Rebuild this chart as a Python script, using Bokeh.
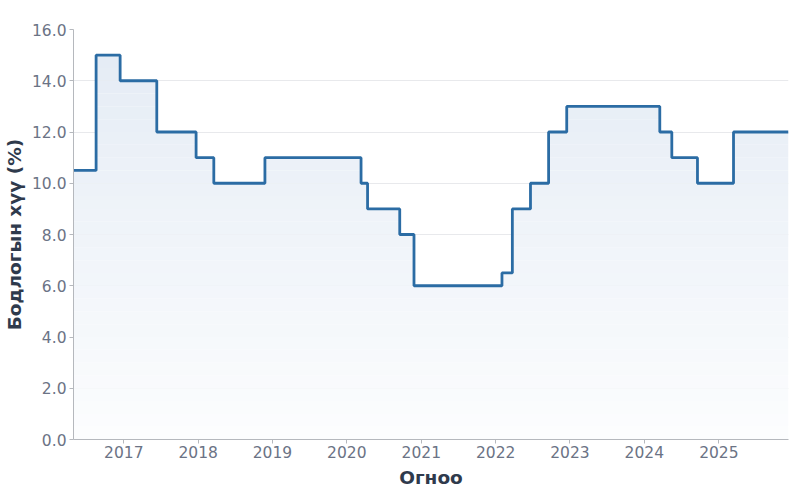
import numpy as np
import pandas as pd
from bokeh.plotting import figure
from bokeh.models import (Range1d, YearsTicker, DatetimeTickFormatter,
                          NumeralTickFormatter, FixedTicker)
from bokeh.embed import file_html
from bokeh.resources import INLINE

# ---- data: policy rate step changes ----
change_dates = ["2016-04-29", "2016-08-18", "2016-12-14", "2017-06-12",
                "2017-12-22", "2018-03-19", "2018-11-25", "2020-03-11",
                "2020-04-12", "2020-09-17", "2020-11-26", "2022-02-01",
                "2022-03-24", "2022-06-21", "2022-09-18", "2022-12-16",
                "2024-03-17", "2024-05-15", "2024-09-18", "2025-03-14",
                "2025-12-09"]
rates = [10.5, 15.0, 14.0, 12.0, 11.0, 10.0, 11.0, 10.0, 9.0, 8.0, 6.0,
         6.5, 9.0, 10.0, 12.0, 13.0, 12.0, 11.0, 10.0, 12.0, 12.0]
y_ticks = [0, 2, 4, 6, 8, 10, 12, 14, 16]

x = pd.to_datetime(change_dates)
y = np.array(rates)

FONT = "DejaVu Sans"
p = figure(x_axis_type="datetime", output_backend="svg", toolbar_location=None,
           frame_width=715, frame_height=410,
           min_border_left=67, min_border_right=2, min_border_top=29,
           min_border_bottom=45,
           x_range=Range1d(x[0], x[-1]), y_range=Range1d(0, 16))
p.background_fill_color = "white"
p.border_fill_color = "white"
p.outline_line_color = None

# gradient-like fill via stacked bands
top_c = np.array([0xe5, 0xec, 0xf5])
bot_c = np.array([0xfc, 0xfd, 0xfe])
edges = np.arange(0, 16.01, 0.5)
for lo, hi in zip(edges[:-1], edges[1:]):
    t = min((lo + hi) / 2 / 15.0, 1.0)
    c = bot_c + (top_c - bot_c) * t
    col = "#%02x%02x%02x" % tuple(int(round(v)) for v in c)
    y2 = np.clip(y, lo, hi)
    if np.all(y2 <= lo):
        continue
    p.varea_step(x=x, y1=np.full(len(y), lo), y2=y2, step_mode="after",
                 fill_color=col, fill_alpha=1.0)

p.step(x=x, y=y, mode="after", line_color="#2b6ca4", line_width=2.8)

# axes
p.xaxis.ticker = YearsTicker(desired_num_ticks=10)
p.xaxis.formatter = DatetimeTickFormatter(years="%Y", months="%Y", days="%Y")
p.yaxis.ticker = FixedTicker(ticks=y_ticks)
p.yaxis.formatter = NumeralTickFormatter(format="0.0")

p.xaxis.axis_label = "Огноо"
p.yaxis.axis_label = "Бодлогын хүү (%)"
for ax in (p.xaxis[0], p.yaxis[0]):
    ax.axis_label_text_font = FONT
    ax.axis_label_text_font_style = "bold"
    ax.axis_label_text_font_size = "18.5px"
    ax.axis_label_text_color = "#2f3a4c"
    ax.major_label_text_font = FONT
    ax.major_label_text_font_size = "15.5px"
    ax.major_label_text_color = "#6b7385"
    ax.axis_line_color = "#b5b8bd"
    ax.major_tick_line_color = "#b5b8bd"
    ax.major_tick_in = 0
    ax.major_tick_out = 4
    ax.minor_tick_line_color = None
p.xaxis.axis_label_standoff = 6
p.yaxis.axis_label_standoff = 4
p.xaxis.major_label_standoff = 2
p.yaxis.major_label_standoff = 3

p.xgrid.grid_line_color = None
p.ygrid.grid_line_color = "#e8e9ec"
p.ygrid.grid_line_width = 1

open("out.html", "w").write(file_html(p, INLINE))
